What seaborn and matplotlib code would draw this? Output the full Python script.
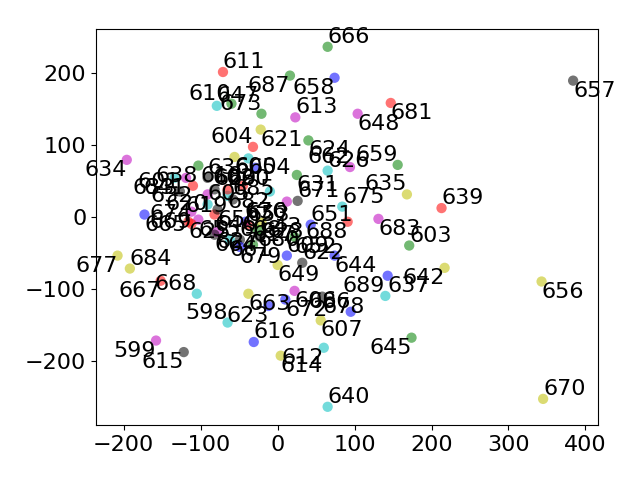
import matplotlib
matplotlib.use("Agg")
import matplotlib.pyplot as plt
import pandas as pd
import seaborn as sns

# point ids run from 598 up to 689
first_id = 598
x_vals = [-65, -158, -56, -127, -29, 171, -32, -91, 22, 56,
          -49, 12, -60, -71, 60, 23, 4, -122, -31, -32,
          -45, -65, -91, -22, 32, -12, 40, -116, 65, -79,
          -21, -82, -42, 25, -110, -134, -196, 168, -91, 143,
          -103, 213, 65, -119, 217, -23, 74, 174, -82, -79,
          104, 0, -78, 43, 22, -39, -38, -103, 343, 384,
          74, 156, -65, -62, 94, -38, -82, -173, 65, -152,
          -105, -112, 345, 26, 10, -21, -112, 84, 12, -208,
          58, -49, -26, 147, -10, 131, -192, -58, 95, 16,
          91, 140]
y_vals = [-147, -172, 83, 35, 68, -40, 97, 17, -103, -144,
          -32, -54, 157, 201, -182, 138, -193, -188, -174, -39,
          43, 29, 31, 121, -64, -124, 106, -7, 64, -21,
          -8, 38, -7, 58, 43, 54, 79, 31, 54, -82,
          71, 12, -264, 54, -71, -28, -54, -168, 3, 154,
          143, -67, 10, -11, -28, -11, 81, -4, -90, 189,
          193, 72, 38, -32, 69, -107, -25, 3, 236, -89,
          -107, 7, -253, 22, -115, 143, -10, 14, 21, -54,
          -111, -42, -18, 158, 35, -3, -72, 24, -132, 196,
          -7, -110]
colors = ["c", "m", "y", "k", "b", "g", "r"]

# labels that sit to the left of / below their point
right_aligned = [598, 599, 601, 602, 604, 610, 612, 615, 618, 619, 620, 623, 632, 633,
                 634, 635, 638, 641, 642, 645, 658, 659, 662, 667, 668, 669, 673, 674,
                 676, 677, 682, 686, 687, 688, 689]
top_aligned = [599, 600, 602, 606, 607, 612, 614, 615, 619, 620, 621, 623, 624, 625,
               627, 628, 631, 632, 633, 634, 637, 638, 641, 642, 644, 645, 646, 648,
               649, 650, 652, 654, 655, 656, 657, 658, 661, 663, 664, 665, 667, 669,
               672, 676, 677, 678, 679, 680, 681, 682, 683, 687, 688]

ids = [first_id + i for i in range(len(x_vals))]
df = pd.DataFrame({"id": ids, "x": x_vals, "y": y_vals})
df["color"] = [colors[i % 7] for i in range(len(df))]

fig, ax = plt.subplots(figsize=(6.4, 4.8), dpi=100)
sns.scatterplot(data=df, x="x", y="y", hue="color", palette={c: c for c in colors},
                legend=False, alpha=0.55, s=55, linewidth=0, ax=ax)

for _, row in df.iterrows():
    ax.text(row["x"], row["y"], str(row["id"]), fontsize=16,
            ha="right" if row["id"] in right_aligned else "left",
            va="top" if row["id"] in top_aligned else "bottom")

ax.set_xlim(-236, 416)
ax.set_ylim(-289, 261)
ax.set_xticks([-200, -100, 0, 100, 200, 300, 400])
ax.set_yticks([-200, -100, 0, 100, 200])
ax.tick_params(labelsize=16)
ax.set_xlabel("")
ax.set_ylabel("")

fig.subplots_adjust(left=0.15, right=0.934, top=0.94, bottom=0.115)
fig.savefig("out.png", dpi=100)
